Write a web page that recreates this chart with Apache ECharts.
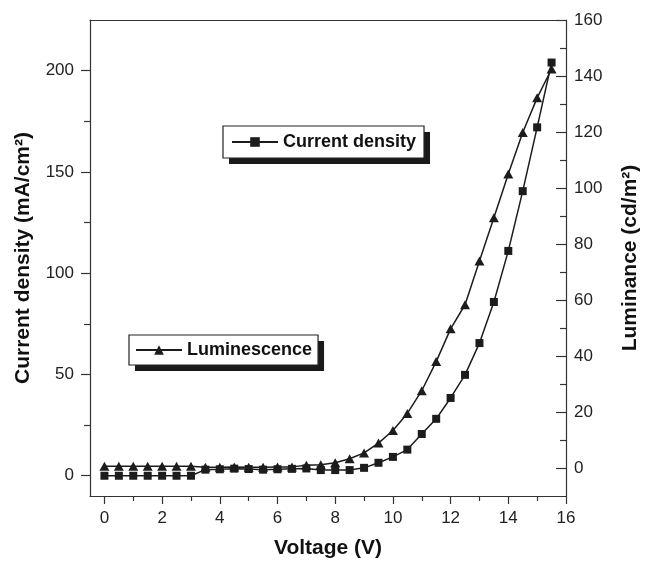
<!DOCTYPE html>
<html>
<head>
<meta charset="utf-8">
<script src="https://cdn.jsdelivr.net/npm/echarts@6/dist/echarts.min.js"></script>
<style>
  html, body { margin: 0; padding: 0; background: #fff; }
  #chart { width: 649px; height: 564px; }
</style>
</head>
<body>
<div id="chart"></div>
<script>
// voltage steps (V)
const voltage = [0, 0.5, 1, 1.5, 2, 2.5, 3, 3.5, 4, 4.5, 5, 5.5, 6, 6.5, 7, 7.5,
  8, 8.5, 9, 9.5, 10, 10.5, 11, 11.5, 12, 12.5, 13, 13.5, 14, 14.5, 15, 15.5]

// mA/cm2
const currentDensity = [0, 0, 0, 0, 0, 0, 0, 3.0, 3.2, 3.5, 3.3, 3.0, 3.2, 3.4, 3.6, 2.8,
  2.8, 2.8, 3.9, 6.4, 9.3, 12.9, 20.6, 28.1, 38.4, 49.8, 65.5, 85.8, 111, 140.5, 172, 204]

// cd/m2
const luminance = [0.6, 0.6, 0.6, 0.6, 0.6, 0.6, 0.6, 0.3, 0.3, 0.4, 0.3, 0.3, 0.4, 0.4, 1.0, 1.2,
  1.9, 3.3, 5.4, 8.9, 13.4, 19.5, 27.6, 38.0, 49.7, 58.3, 73.9, 89.4, 105, 119.8, 132.2, 142.5]

const xMajor = [0, 2, 4, 6, 8, 10, 12, 14, 16]
const xMinor = [1, 3, 5, 7, 9, 11, 13, 15]
const leftMajor = [0, 50, 100, 150, 200]
const leftMinor = [25, 75, 125, 175]
const rightMajor = [0, 20, 40, 60, 80, 100, 120, 140, 160]
const rightMinor = [10, 30, 50, 70, 90, 110, 130, 150]

const FONT = '"Liberation Sans", Arial, sans-serif'
const INK = '#1c1c1c'
const AXIS = '#333'
const SHADOW = '#1a1a1a'

const chart = echarts.init(document.getElementById('chart'), null, { renderer: 'canvas' })

const pairs = arr => voltage.map((v, i) => [v, arr[i]])

const labelStyle = { color: '#222', fontSize: 17, fontFamily: FONT }
const nameStyle = { color: '#111', fontSize: 21, fontWeight: 'bold', fontFamily: FONT }
const axisLine = { show: true, onZero: false, lineStyle: { color: AXIS, width: 1.2 } }

// overlay axis that only draws the minor ticks
const minorAxis = (pos, min, max, values, len, inside) => ({
  type: 'value', position: pos, min, max,
  axisLine: { show: false, onZero: false },
  axisLabel: { show: false },
  splitLine: { show: false },
  axisTick: { show: true, inside, length: len, customValues: values, lineStyle: { color: AXIS, width: 1.2 } },
})

const legendBase = {
  orient: 'horizontal',
  selectedMode: false,
  itemWidth: 46,
  itemHeight: 12,
  borderRadius: 0,
  textStyle: { fontSize: 18, fontWeight: 'bold', fontFamily: FONT },
}

// white box with border
const legendBox = (name, left, top, pad) => Object.assign({}, legendBase, {
  data: [name], left, top, padding: pad, z: 6,
  backgroundColor: '#fff', borderColor: '#222', borderWidth: 1.2,
  textStyle: Object.assign({}, legendBase.textStyle, { color: '#111' }),
})

// solid copy behind it, offset as a drop shadow
const legendShadow = (name, left, top, pad) => Object.assign({}, legendBase, {
  data: [name], left: left + 6, top: top + 6, padding: pad, z: 5,
  backgroundColor: SHADOW, borderWidth: 0,
  itemStyle: { color: SHADOW, borderWidth: 0 },
  lineStyle: { color: SHADOW },
  textStyle: Object.assign({}, legendBase.textStyle, { color: SHADOW }),
})

const option = {
  backgroundColor: '#fff',
  animation: false,
  grid: { left: 90, right: 77, top: 20, bottom: 65, containLabel: false },
  legend: [
    legendShadow('Current density', 223, 126, [7, 8, 7, 8]),
    legendBox('Current density', 223, 126, [7, 8, 7, 8]),
    legendShadow('Luminescence', 129, 335, [6, 6, 6, 6]),
    legendBox('Luminescence', 129, 335, [6, 6, 6, 6]),
  ],
  xAxis: [
    {
      type: 'value', position: 'bottom', min: -0.5, max: 16,
      name: 'Voltage (V)', nameLocation: 'middle', nameGap: 42, nameTextStyle: nameStyle,
      axisLine,
      axisTick: { show: true, length: 8, customValues: xMajor, lineStyle: { color: AXIS, width: 1.2 } },
      axisLabel: Object.assign({ margin: 14, customValues: xMajor }, labelStyle),
      splitLine: { show: false },
    },
    minorAxis('bottom', -0.5, 16, xMinor, 5, false),
    {
      type: 'value', position: 'top', min: -0.5, max: 16,
      axisLine,
      axisTick: { show: false }, axisLabel: { show: false }, splitLine: { show: false },
    },
  ],
  yAxis: [
    {
      type: 'value', position: 'left', min: -10, max: 225,
      name: 'Current density (mA/cm\u00B2)', nameLocation: 'middle', nameRotate: 90, nameGap: 56,
      nameTextStyle: nameStyle,
      axisLine,
      axisTick: { show: true, length: 9, customValues: leftMajor, lineStyle: { color: AXIS, width: 1.2 } },
      axisLabel: Object.assign({ margin: 16, customValues: leftMajor }, labelStyle),
      splitLine: { show: false },
    },
    {
      type: 'value', position: 'right', min: -10, max: 160,
      name: 'Luminance (cd/m\u00B2)', nameLocation: 'middle', nameRotate: 90, nameGap: 54,
      nameTextStyle: nameStyle,
      axisLine,
      axisTick: { show: true, inside: true, length: 10, customValues: rightMajor, lineStyle: { color: AXIS, width: 1.2 } },
      axisLabel: Object.assign({ margin: 8, customValues: rightMajor }, labelStyle),
      splitLine: { show: false },
    },
    minorAxis('left', -10, 225, leftMinor, 6, false),
    minorAxis('right', -10, 160, rightMinor, 6, true),
  ],
  series: [
    {
      name: 'Luminescence',
      type: 'line',
      xAxisIndex: 0,
      yAxisIndex: 1,
      data: pairs(luminance),
      symbol: 'triangle',
      symbolSize: [10, 9],
      lineStyle: { color: INK, width: 1.5 },
      itemStyle: { color: INK },
      z: 2,
    },
    {
      name: 'Current density',
      type: 'line',
      xAxisIndex: 0,
      yAxisIndex: 0,
      data: pairs(currentDensity),
      symbol: 'rect',
      symbolSize: 8,
      lineStyle: { color: INK, width: 1.5 },
      itemStyle: { color: INK },
      z: 3,
    },
  ],
}

chart.setOption(option)
</script>
</body>
</html>
